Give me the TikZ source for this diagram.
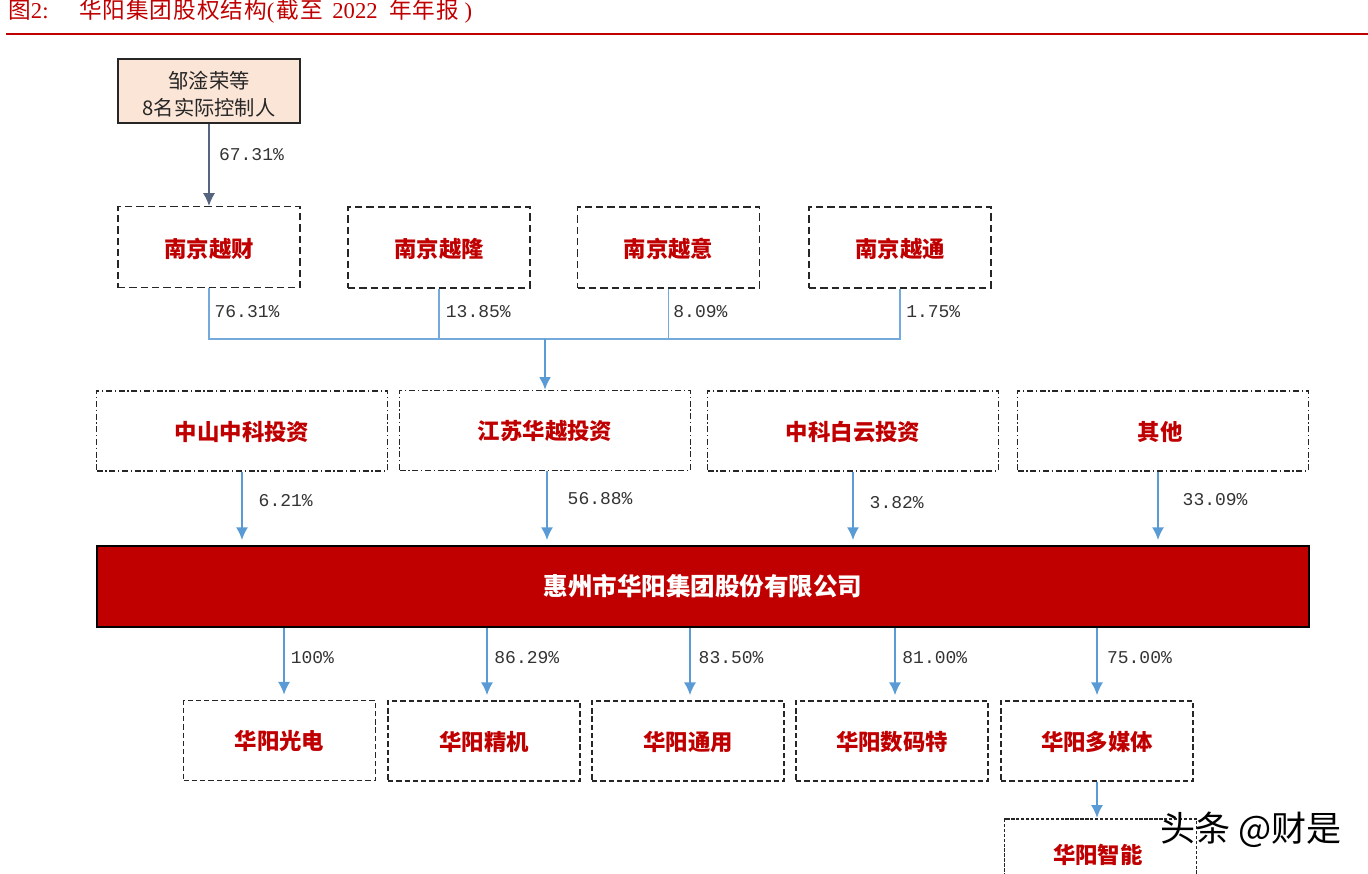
\documentclass[tikz,border=0pt]{standalone}
\usepackage{fontspec}
\setmainfont{Liberation Serif}
\newfontfamily\cjk{Noto Sans CJK SC}
\newfontfamily\cjktitle[LetterSpace=4]{Noto Sans CJK SC}
\newfontfamily\pctfont{Liberation Mono}
\usetikzlibrary{shapes,arrows.meta}
\definecolor{hyred}{HTML}{C00000}
\definecolor{hyblue}{HTML}{5B9BD5}
\definecolor{hyslate}{HTML}{56657F}
\definecolor{hypeach}{HTML}{FBE5D6}
\tikzstyle{block} = [rectangle, inner sep=0pt, align=center, text=hyred, font=\cjk\fontsize{16.8}{20}\selectfont\bfseries]
\tikzstyle{dashblock} = [block, draw=black!85, line width=0.9pt, dash pattern=on 5.5pt off 3pt, minimum width=136.5pt, minimum height=60.75pt, text height=17pt, text depth=2pt]
\tikzstyle{dotblock} = [block, draw=black!85, line width=0.9pt, dash pattern=on 4.5pt off 2pt on 1pt off 2pt, minimum width=218pt, minimum height=60pt, text height=16pt, text depth=2pt]
\tikzstyle{subblock} = [dashblock, line width=0.8pt, dash pattern=on 4pt off 2.2pt, minimum width=144pt, minimum height=60pt, text height=16pt]
\tikzstyle{pct} = [right, inner sep=0pt, text=black!80, font=\pctfont\fontsize{13.5}{16}\selectfont]
\tikzstyle{feed} = [->, color=hyblue, line width=1.1pt, shorten >=4pt]
\tikzstyle{bus} = [color=hyblue!85, line width=1.4pt]

\begin{document}
\begin{tikzpicture}[x=0.75pt, y=-0.75pt, >={Latex[length=9.5pt,width=9pt]}]
	\path[use as bounding box, clip] (0,0) rectangle (1368,874);

	% heading
	\node [anchor=west, inner sep=0pt, text=hyred, font=\fontsize{17}{20}\selectfont] (heading) at (8,11)
		{{\cjk 图}2:\hspace{23pt}{\cjktitle 华阳集团股权结构}(\hspace{1.5pt}{\cjktitle 截至}\hspace{3pt} 2022\hspace{1pt} \hspace{3.5pt}{\cjktitle 年年报}\hspace{4pt})};
	\coordinate (ruleL) at (6,34);
	\coordinate (ruleR) at (1368,34);
	\draw [color=hyred, line width=1.5pt] (ruleL) -- (ruleR);

	% holders
	\node [block, draw=black!85, fill=hypeach, line width=0.9pt, text=black!85, minimum width=136.5pt, minimum height=48pt,
		font=\cjk\fontsize{15.2}{20.5}\selectfont] (owners) at (209,91) {\rule{0pt}{1.15em}邹淦荣等\\8名实际控制人};

	\node [dashblock] (yuecai) at (209,247) {南京越财};
	\node [dashblock] (yuelong) at (439,247.5) {南京越隆};
	\node [dashblock] (yueyi) at (668.5,247.5) {南京越意};
	\node [dashblock] (yuetong) at (900,247.5) {南京越通};

	\node [dotblock] (zhongshan) at (242,431) {中山中科投资};
	\node [dotblock] (huayue) at (545,430.5) {江苏华越投资};
	\node [dotblock] (baiyun) at (853,431) {中科白云投资};
	\node [dotblock] (others) at (1163,431) {其他\hspace*{4.5pt}};

	\node [block, draw=black, fill=hyred, text=white, line width=1pt, minimum width=909pt, minimum height=60.75pt,
		font=\cjk\fontsize{18.4}{20}\selectfont\bfseries] (huayang) at (703,586.5) {惠州市华阳集团股份有限公司};

	\node [subblock] (guangdian) at (279.5,740.5) {华阳光电};
	\node [subblock] (jingji) at (484,741) {华阳精机};
	\node [subblock] (tongyong) at (688,741) {华阳通用};
	\node [subblock] (shumate) at (892,741) {华阳数码特};
	\node [subblock] (duomeiti) at (1097,741) {华阳多媒体};
	\node [subblock, minimum height=52.5pt, dash pattern=on 2.5pt off 1.2pt] (zhineng) at (1100.5,854) {华阳智能\hspace*{4pt}};

	% links
	\draw [->, color=hyslate, line width=1.1pt] (owners) -- node[pct, xshift=7pt, yshift=8pt] {67.31\%} (yuecai);

	\coordinate (junction) at (545,339);
	\draw [bus] (yuecai.south) |- node[pct, pos=0.28, xshift=3.5pt, yshift=3.75pt] {76.31\%} (junction);
	\draw [bus] (yuelong.south) |- node[pct, pos=0.28, xshift=4.5pt, yshift=3.75pt] {13.85\%} (junction);
	\draw [bus] (yueyi.south) |- node[pct, pos=0.28, xshift=3pt, yshift=3.75pt] {8.09\%} (junction);
	\draw [bus] (yuetong.south) |- node[pct, pos=0.28, xshift=4pt, yshift=3.75pt] {1.75\%} (junction);
	\draw [->, color=hyblue, line width=2.2pt] (junction) -- (huayue.north);

	% feet of the links that leave a box off centre
	\coordinate (huayueOut) at ([xshift=1.5pt]huayue.south);
	\coordinate (othersOut) at ([xshift=-3.75pt]others.south);
	\coordinate (guangdianIn) at ([xshift=3.4pt]guangdian.north);
	\coordinate (jingjiIn) at ([xshift=2.25pt]jingji.north);
	\coordinate (tongyongIn) at ([xshift=1.5pt]tongyong.north);
	\coordinate (shumateIn) at ([xshift=2.25pt]shumate.north);

	\draw [feed] (zhongshan.south) -- node[pct, xshift=12pt, yshift=6pt] {6.21\%} (huayang.north -| zhongshan);
	\draw [feed] (huayueOut) -- node[pct, xshift=15pt, yshift=7pt] {56.88\%} (huayang.north -| huayueOut);
	\draw [feed] (baiyun.south) -- node[pct, xshift=12pt, yshift=4.5pt] {3.82\%} (huayang.north -| baiyun);
	\draw [feed] (othersOut) -- node[pct, xshift=18pt, yshift=7pt] {33.09\%} (huayang.north -| othersOut);

	\draw [feed] (huayang.south -| guangdianIn) -- node[pct, xshift=4.5pt, yshift=5pt] {100\%} (guangdianIn);
	\draw [feed] (huayang.south -| jingjiIn) -- node[pct, xshift=5pt, yshift=5pt] {86.29\%} (jingjiIn);
	\draw [feed] (huayang.south -| tongyongIn) -- node[pct, xshift=6pt, yshift=5pt] {83.50\%} (tongyongIn);
	\draw [feed] (huayang.south -| shumateIn) -- node[pct, xshift=5pt, yshift=5pt] {81.00\%} (shumateIn);
	\draw [feed] (huayang.south -| duomeiti) -- node[pct, xshift=7pt, yshift=5pt] {75.00\%} (duomeiti.north);
	\draw [feed, shorten >=0.5pt] (duomeiti.south) -- (zhineng.north -| duomeiti);

	% watermark
	\node [anchor=west, inner sep=0pt, text=black, font=\cjk\fontsize{26.3}{28}\selectfont] (mark) at (1160,830) {头条 @财是};
\end{tikzpicture}
\end{document}
